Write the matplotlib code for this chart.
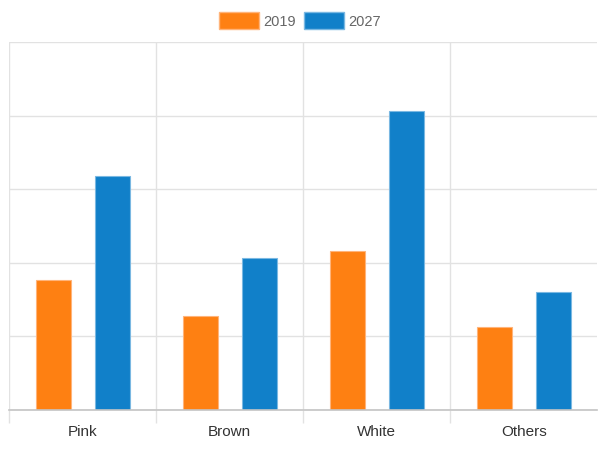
import matplotlib

matplotlib.use("Agg")

import matplotlib.pyplot as plt
import numpy as np
from matplotlib.patches import Patch

categories = ["Pink", "Brown", "White", "Others"]
series_names = ["2019", "2027"]
values_2019 = [17.6, 12.8, 21.6, 11.2]
values_2027 = [31.8, 20.6, 40.6, 16.0]

ORANGE = "#fe8012"
BLUE = "#1180c9"
GRID = "#e2e2e2"
BASE = "#c4c4c4"
FONT = ["Liberation Sans", "DejaVu Sans"]

fig = plt.figure(figsize=(6.0, 4.52), dpi=100)
ax = fig.add_axes([9.3 / 600, 1 - 410.7 / 452, 588 / 600, 367.4 / 452])

x = np.arange(len(categories))
width = 0.238
ax.bar(x - 0.2, values_2019, width, color=ORANGE, edgecolor="#ffb47a",
       linewidth=0.8, zorder=3)
ax.bar(x + 0.2, values_2027, width, color=BLUE, edgecolor="#7ab8e2",
       linewidth=0.8, zorder=3)

ax.set_xlim(-0.5, 3.5)
ax.set_ylim(0, 50)
ax.set_yticks(np.arange(0, 51, 10))
ax.set_yticklabels([])
ax.tick_params(axis="y", length=0)
ax.grid(axis="y", color=GRID, linewidth=1, zorder=0)

# category labels, plus boundary gridlines that poke below the baseline
ax.set_xticks(x)
ax.set_xticklabels(categories, fontsize=11, color="#333333", family=FONT)
ax.tick_params(axis="x", which="major", length=0, pad=10.5)
ax.set_xticks([-0.5, 0.5, 1.5, 2.5], minor=True)
ax.tick_params(axis="x", which="minor", length=9.5, color=GRID, width=1)
ax.grid(axis="x", which="minor", color=GRID, linewidth=1, zorder=0)

for side in ["top", "right", "left"]:
    ax.spines[side].set_visible(False)
ax.spines["bottom"].set_color(BASE)
ax.spines["bottom"].set_linewidth(1.2)
ax.spines["bottom"].set_zorder(4)

handles = [Patch(facecolor=ORANGE, edgecolor="#ffb47a"),
           Patch(facecolor=BLUE, edgecolor="#7ab8e2")]
fig.legend(handles, series_names, loc="center", bbox_to_anchor=(0.5, 1 - 21.5 / 452),
           ncol=2, frameon=False, handlelength=2.7, handleheight=1.4,
           handletextpad=0.3, columnspacing=0.6,
           prop={"family": FONT, "size": 10.5},
           labelcolor="#666666")

fig.savefig("out.png", dpi=100, facecolor="white")
